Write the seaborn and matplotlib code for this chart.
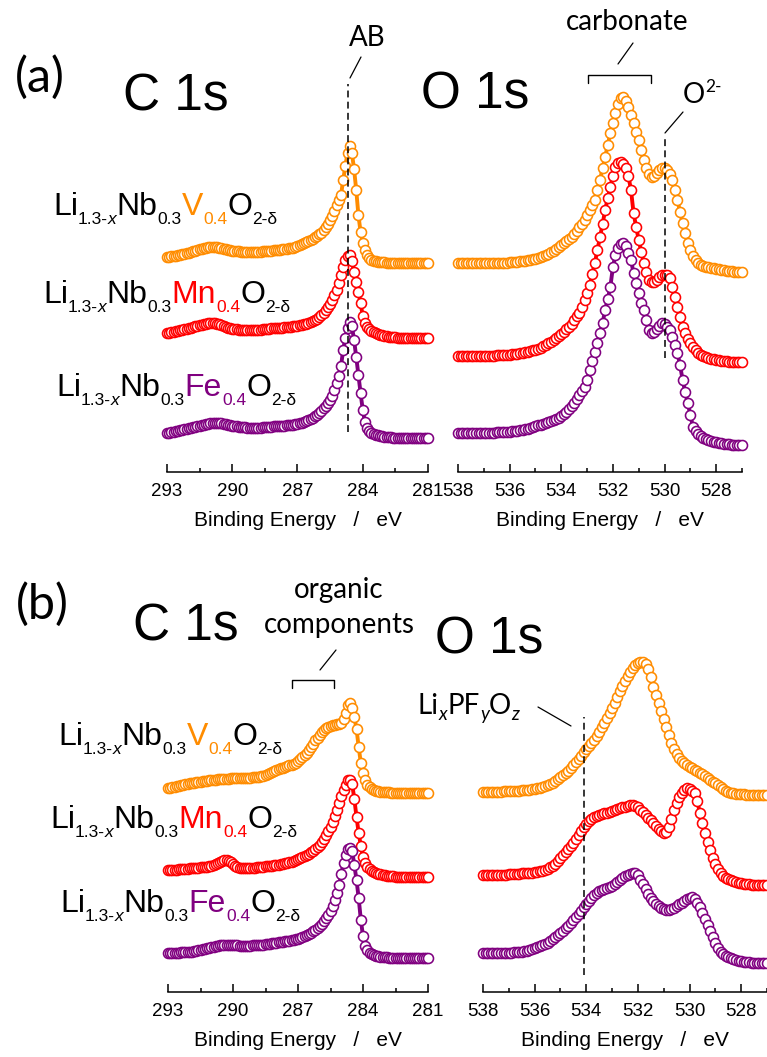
import numpy as np
import matplotlib
matplotlib.use("Agg")
import matplotlib.pyplot as plt
import seaborn as sns

# ---------------------------------------------------------------- data
# binding-energy grids (eV), 0.1 eV step, high -> low
C1S_START, C1S_STOP = 293.0, 281.0
O1S_START, O1S_STOP = 538.0, 527.0
c1s_energy = np.round(np.arange(C1S_START, C1S_STOP - 0.05, -0.1), 1)
o1s_energy = np.round(np.arange(O1S_START, O1S_STOP - 0.05, -0.1), 1)

samples = ["V", "Mn", "Fe"]

# (a) C 1s intensities (a.u., baseline removed)
c1s_a_V = [6, 6, 7, 7, 7, 8, 8, 9, 9, 10,
           10, 11, 12, 12, 13, 14, 14, 15, 15, 16,
           16, 16, 16, 16, 15, 15, 14, 14, 13, 13,
           12, 12, 12, 12, 11, 11, 11, 11, 11, 11,
           11, 11, 11, 11, 12, 12, 12, 12, 12, 13,
           13, 13, 13, 14, 14, 14, 15, 15, 15, 16,
           17, 18, 19, 20, 21, 22, 23, 24, 26, 27,
           29, 30, 33, 36, 39, 43, 47, 52, 58, 63,
           68, 83, 97, 110, 117, 110, 94, 73, 48, 31,
           20, 13, 8, 5, 3, 2, 2, 1, 1, 1,
           1, 0, 0, 0, 0, 0, 0, 0, 0, 0,
           0, 0, 0, 0, 0, 0, 0, 0, 0, 0,
           0]
c1s_a_Mn = [5, 5, 6, 6, 7, 7, 8, 8, 9, 9,
            10, 10, 11, 12, 12, 13, 13, 14, 14, 15,
            15, 15, 15, 14, 14, 13, 12, 11, 10, 10,
            9, 9, 9, 8, 8, 8, 8, 8, 8, 8,
            8, 8, 8, 8, 9, 9, 9, 9, 10, 10,
            10, 10, 10, 10, 11, 11, 11, 11, 12, 12,
            12, 13, 13, 14, 14, 15, 16, 17, 18, 19,
            21, 23, 25, 28, 31, 34, 38, 43, 48, 55,
            63, 71, 78, 82, 83, 77, 66, 56, 46, 35,
            22, 15, 11, 9, 7, 6, 5, 4, 3, 3,
            2, 2, 1, 1, 1, 1, 0, 0, 0, 0,
            0, 0, 0, 0, 0, 0, 0, 0, 0, 0,
            0]
c1s_a_Fe = [5, 5, 6, 6, 7, 7, 8, 8, 9, 9,
            10, 10, 11, 11, 12, 12, 13, 13, 14, 14,
            15, 15, 15, 15, 15, 15, 14, 14, 13, 13,
            12, 12, 12, 11, 11, 11, 11, 10, 10, 10,
            10, 10, 10, 10, 11, 11, 11, 11, 11, 12,
            12, 12, 12, 12, 12, 13, 13, 13, 13, 14,
            14, 15, 15, 16, 17, 18, 19, 20, 22, 23,
            25, 27, 30, 32, 35, 38, 42, 48, 55, 62,
            72, 88, 100, 110, 116, 112, 98, 81, 63, 45,
            28, 16, 10, 7, 5, 4, 3, 3, 2, 2,
            1, 1, 1, 1, 0, 0, 0, 0, 0, 0,
            0, 0, 0, 0, 0, 0, 0, 0, 0, 0,
            0]

# (a) O 1s intensities
o1s_a_V = [9, 9, 9, 9, 9, 9, 9, 9, 9, 9,
           9, 9, 9, 9, 9, 9, 9, 9, 9, 9,
           10, 10, 10, 10, 11, 11, 11, 12, 12, 13,
           13, 14, 15, 16, 17, 18, 20, 21, 23, 25,
           27, 29, 31, 33, 35, 38, 41, 45, 48, 52,
           57, 62, 67, 72, 82, 92, 104, 115, 127, 139,
           149, 159, 168, 174, 175, 171, 165, 157, 149, 140,
           132, 122, 112, 104, 98, 95, 96, 99, 102, 104,
           104, 102, 98, 92, 82, 72, 60, 49, 39, 29,
           22, 16, 12, 9, 7, 6, 5, 5, 4, 4,
           3, 3, 2, 2, 1, 1, 1, 0, 0, 0,
           0]
o1s_a_Mn = [6, 6, 6, 6, 6, 6, 6, 6, 6, 6,
            6, 6, 6, 6, 6, 7, 7, 7, 7, 7,
            7, 8, 8, 8, 9, 9, 10, 10, 11, 12,
            12, 13, 14, 16, 17, 19, 20, 22, 24, 26,
            28, 30, 33, 35, 38, 42, 46, 49, 55, 62,
            69, 77, 88, 99, 112, 125, 138, 152, 164, 175,
            186, 195, 199, 200, 198, 194, 186, 172, 149, 135,
            122, 110, 99, 90, 82, 80, 80, 82, 85, 87,
            87, 87, 84, 75, 65, 55, 45, 35, 29, 23,
            19, 15, 12, 9, 7, 6, 5, 4, 3, 3,
            2, 2, 1, 1, 1, 0, 0, 0, 0, 0,
            0]
o1s_a_Fe = [12, 12, 12, 12, 12, 12, 12, 12, 12, 12,
            12, 12, 12, 12, 12, 13, 13, 13, 13, 13,
            13, 14, 14, 14, 15, 15, 16, 16, 17, 18,
            19, 20, 20, 21, 22, 23, 24, 25, 26, 27,
            29, 31, 33, 36, 39, 42, 46, 50, 54, 58,
            65, 75, 84, 93, 102, 112, 122, 135, 146, 158,
            178, 190, 197, 201, 202, 199, 192, 185, 172, 162,
            152, 142, 135, 125, 115, 112, 113, 116, 119, 122,
            121, 118, 115, 108, 100, 92, 80, 65, 53, 42,
            30, 18, 14, 11, 9, 7, 6, 5, 4, 3,
            3, 2, 2, 1, 1, 1, 0, 0, 0, 0,
            0]

# (b) C 1s intensities
c1s_b_V = [5, 5, 6, 6, 7, 7, 8, 8, 9, 9,
           10, 10, 10, 11, 11, 11, 12, 12, 12, 13,
           13, 13, 13, 14, 14, 14, 14, 14, 14, 15,
           15, 15, 15, 15, 15, 15, 15, 15, 15, 16,
           16, 16, 16, 17, 17, 18, 19, 20, 21, 22,
           23, 24, 25, 25, 26, 27, 28, 28, 29, 30,
           32, 34, 36, 38, 40, 43, 46, 49, 53, 55,
           58, 61, 63, 65, 66, 67, 68, 68, 69, 69,
           70, 74, 80, 88, 90, 85, 76, 64, 46, 30,
           20, 13, 8, 6, 4, 3, 2, 2, 1, 1,
           1, 1, 1, 0, 0, 0, 0, 0, 0, 0,
           0, 0, 0, 0, 0, 0, 0, 0, 0, 0,
           0]
c1s_b_Mn = [7, 7, 7, 7, 7, 8, 8, 8, 8, 8,
            9, 9, 9, 9, 9, 10, 10, 10, 10, 11,
            11, 12, 13, 14, 15, 16, 17, 17, 16, 15,
            13, 11, 10, 9, 9, 9, 9, 9, 9, 9,
            9, 10, 10, 10, 10, 11, 11, 11, 11, 12,
            12, 12, 13, 13, 14, 14, 15, 15, 16, 17,
            18, 19, 20, 21, 22, 23, 25, 26, 28, 30,
            32, 35, 38, 42, 46, 50, 55, 61, 67, 74,
            81, 87, 92, 97, 97, 93, 78, 60, 44, 31,
            20, 14, 10, 8, 6, 5, 4, 3, 3, 2,
            2, 1, 1, 1, 1, 0, 0, 0, 0, 0,
            0, 0, 0, 0, 0, 0, 0, 0, 0, 0,
            0]
c1s_b_Fe = [5, 5, 5, 5, 5, 5, 6, 6, 6, 6,
            6, 6, 7, 7, 8, 8, 9, 9, 10, 10,
            11, 11, 12, 12, 13, 13, 13, 13, 13, 13,
            13, 13, 13, 12, 12, 12, 12, 12, 12, 13,
            13, 13, 13, 13, 13, 14, 14, 14, 15, 15,
            15, 16, 16, 16, 17, 17, 17, 18, 18, 19,
            19, 20, 21, 22, 23, 24, 25, 27, 28, 30,
            32, 34, 37, 40, 43, 47, 52, 58, 65, 73,
            84, 95, 103, 109, 110, 107, 93, 78, 60, 38,
            22, 12, 8, 5, 4, 3, 2, 2, 1, 1,
            1, 1, 0, 0, 0, 0, 0, 0, 0, 0,
            0, 0, 0, 0, 0, 0, 0, 0, 0, 0,
            0]

# (b) O 1s intensities
o1s_b_V = [3, 3, 3, 3, 3, 3, 3, 3, 4, 4,
           4, 4, 4, 4, 4, 5, 5, 5, 5, 6,
           6, 7, 7, 8, 9, 10, 11, 12, 14, 16,
           18, 20, 22, 24, 27, 30, 33, 36, 39, 43,
           46, 49, 52, 55, 59, 63, 68, 72, 77, 82,
           87, 92, 98, 104, 109, 114, 119, 123, 127, 130,
           132, 133, 133, 131, 126, 118, 108, 100, 92, 84,
           76, 68, 60, 52, 46, 41, 37, 34, 32, 30,
           28, 27, 25, 24, 22, 21, 19, 17, 15, 13,
           12, 10, 8, 6, 4, 3, 2, 2, 1, 1,
           1, 1, 0, 0, 0, 0, 0, 0, 0, 0,
           0]
o1s_b_Mn = [10, 10, 10, 10, 10, 10, 10, 10, 10, 10,
            11, 11, 11, 11, 11, 12, 12, 12, 12, 12,
            13, 13, 14, 14, 15, 16, 18, 19, 21, 24,
            27, 30, 33, 36, 39, 42, 46, 50, 54, 58,
            61, 64, 66, 68, 69, 70, 71, 72, 72, 73,
            74, 75, 76, 77, 78, 78, 79, 80, 80, 79,
            78, 75, 73, 70, 67, 65, 62, 59, 56, 54,
            52, 53, 58, 66, 75, 82, 88, 92, 95, 97,
            96, 94, 92, 84, 72, 62, 52, 43, 35, 27,
            21, 16, 12, 9, 7, 6, 5, 4, 3, 2,
            2, 1, 1, 1, 0, 0, 0, 0, 0, 0,
            0]
o1s_b_Fe = [10, 10, 10, 10, 10, 10, 10, 10, 10, 10,
            10, 10, 11, 11, 11, 11, 12, 12, 13, 14,
            15, 16, 17, 18, 19, 20, 22, 24, 26, 28,
            30, 32, 35, 37, 40, 43, 46, 49, 52, 56,
            59, 62, 65, 68, 70, 72, 73, 74, 75, 76,
            77, 79, 81, 83, 85, 87, 88, 89, 90, 90,
            88, 83, 79, 74, 69, 65, 62, 59, 57, 55,
            54, 53, 53, 54, 55, 57, 59, 60, 62, 64,
            65, 66, 64, 60, 56, 50, 44, 38, 32, 26,
            20, 15, 11, 9, 7, 6, 5, 4, 3, 2,
            2, 1, 1, 1, 0, 0, 0, 0, 0, 0,
            0]

# vertical stacking offsets of the three spectra in each panel
offsets_a_c1s = [209, 134, 34]
offsets_a_o1s = [200, 110, 27]
offsets_b_c1s = [199, 115, 34]
offsets_b_o1s = [197, 107, 29]

# reference energies marked with dashed lines (eV)
AB_ENERGY = 284.7
O2_ENERGY = 530.0
LIPFO_ENERGY = 534.1

c1s_ticks = [293, 290, 287, 284, 281]
c1s_minor = [291.5, 288.5, 285.5, 282.5]
o1s_ticks = [538, 536, 534, 532, 530, 528]
o1s_minor = [537, 535, 533, 531, 529, 527]

colors = {"V": "#FF8C00", "Mn": "#FF0000", "Fe": "#800080"}

# ---------------------------------------------------------------- style
sns.set_theme(style="white")
ARIAL = ["Liberation Sans", "DejaVu Sans"]
CALIBRI = ["Lato", "DejaVu Sans"]
plt.rcParams["font.family"] = ARIAL
plt.rcParams["text.color"] = "black"
plt.rcParams["axes.labelcolor"] = "black"
plt.rcParams["xtick.color"] = "black"
plt.rcParams["xtick.labelcolor"] = "black"

W, H = 767, 1057
fig = plt.figure(figsize=(W / 100, H / 100), dpi=100)

# overlay in pixel coordinates for annotations
ov = fig.add_axes([0, 0, 1, 1], zorder=5)
ov.set_xlim(0, W)
ov.set_ylim(H, 0)
ov.axis("off")


def add_panel(left, right, axis_y, top, xlim, ticks, minor):
    ax = fig.add_axes([left / W, 1 - axis_y / H, (right - left) / W,
                       (axis_y - top) / H])
    ax.set_xlim(*xlim)
    ax.set_ylim(0, axis_y - top)
    ax.patch.set_alpha(0)
    for s in ("left", "right", "top"):
        ax.spines[s].set_visible(False)
    ax.spines["bottom"].set_color("black")
    ax.spines["bottom"].set_linewidth(1.1)
    ax.set_yticks([])
    ax.set_xticks(ticks)
    ax.set_xticks(minor, minor=True)
    ax.set_xticklabels([str(t) for t in ticks])
    ax.tick_params(axis="x", which="major", direction="in", length=6,
                   width=1.1, color="black", labelcolor="black",
                   labelsize=13.5, pad=8, bottom=True)
    ax.tick_params(axis="x", which="minor", direction="in", length=3.2,
                   width=1.1, color="black", bottom=True)
    ax.set_xlabel("Binding Energy   /   eV", fontsize=15, labelpad=8,
                  color="black")
    ax.grid(False)
    return ax


def draw_spectra(ax, energy, series, offsets):
    for name, vals, off in zip(samples, series, offsets):
        y = np.asarray(vals, dtype=float) + off
        sns.lineplot(x=energy, y=y, ax=ax, sort=False, estimator=None,
                     color=colors[name], linewidth=2.8, marker="o",
                     markersize=7.2, markerfacecolor="white",
                     markeredgecolor=colors[name], markeredgewidth=1.15,
                     clip_on=False)


ax_ac = add_panel(167, 428, 472, 130, (293, 281), c1s_ticks, c1s_minor)
ax_ao = add_panel(458, 742, 472, 130, (538, 527), o1s_ticks, o1s_minor)
ax_bc = add_panel(168, 428, 992, 650, (293, 281), c1s_ticks, c1s_minor)
ax_bo = add_panel(483, 767, 992, 650, (538, 527), o1s_ticks, o1s_minor)

draw_spectra(ax_ac, c1s_energy, [c1s_a_V, c1s_a_Mn, c1s_a_Fe], offsets_a_c1s)
draw_spectra(ax_ao, o1s_energy, [o1s_a_V, o1s_a_Mn, o1s_a_Fe], offsets_a_o1s)
draw_spectra(ax_bc, c1s_energy, [c1s_b_V, c1s_b_Mn, c1s_b_Fe], offsets_b_c1s)
draw_spectra(ax_bo, o1s_energy, [o1s_b_V, o1s_b_Mn, o1s_b_Fe], offsets_b_o1s)

# dashed reference lines (y in pixels above the axis line)
dash = dict(color="black", lw=1.1, ls=(0, (4.5, 2.8)), clip_on=False,
            zorder=4)
ax_ac.plot([AB_ENERGY, AB_ENERGY], [472 - 432, 472 - 84], **dash)
ax_ao.plot([O2_ENERGY, O2_ENERGY], [472 - 358, 472 - 136], **dash)
ax_bo.plot([LIPFO_ENERGY, LIPFO_ENERGY], [992 - 975, 992 - 717], **dash)

# ---------------------------------------------------------------- text
big = dict(ha="center", va="center", color="black")
ov.text(40, 77, "(a)", fontsize=35, family=CALIBRI, **big)
ov.text(42, 604, "(b)", fontsize=35, family=CALIBRI, **big)
ov.text(176, 97, "C 1s", fontsize=37, family=ARIAL, **big)
ov.text(475, 95, "O 1s", fontsize=37, family=ARIAL, **big)
ov.text(186, 627, "C 1s", fontsize=37, family=ARIAL, **big)
ov.text(489, 640, "O 1s", fontsize=37, family=ARIAL, **big)

ov.text(367, 38, "AB", fontsize=20, family=CALIBRI, **big)
ov.plot([350, 361], [78, 57], color="black", lw=0.9)

ov.text(627, 22, "carbonate", fontsize=20, family=CALIBRI, **big)
ov.plot([618, 633], [64, 43], color="black", lw=0.9)
ov.plot([588, 588, 651, 651], [83, 75, 75, 83], color="black", lw=1.0)

ov.text(683, 103, "O", fontsize=20, family=CALIBRI, ha="left",
        va="baseline")
ov.text(705, 92, "2-", fontsize=12.5, family=CALIBRI, ha="left",
        va="baseline")
ov.plot([665, 683], [133, 112], color="black", lw=0.9)

ov.text(339, 590, "organic", fontsize=20, family=CALIBRI, **big)
ov.text(339, 625, "components", fontsize=20, family=CALIBRI, **big)
ov.plot([320, 336], [670, 650], color="black", lw=0.9)
ov.plot([292, 292, 334, 334], [688, 680, 680, 688], color="black", lw=1.0)

renderer = fig.canvas.get_renderer()


def rich(x, y, parts, size, sub, drop, family):
    for txt, col, is_sub, italic in parts:
        t = ov.text(x, y + (drop if is_sub else 0), txt,
                    fontsize=sub if is_sub else size, color=col,
                    style="italic" if italic else "normal",
                    family=family, ha="left", va="baseline")
        x += t.get_window_extent(renderer).width


k = "black"
rich(418, 714, [("Li", k, 0, 0), ("x", k, 1, 1), ("PF", k, 0, 0),
                ("y", k, 1, 1), ("O", k, 0, 0), ("z", k, 1, 1)],
     20, 13.5, 6, CALIBRI)
ov.plot([538, 571], [707, 726], color="black", lw=0.9)


def sample_label(x, y, metal):
    c = colors[metal]
    rich(x, y, [("Li", k, 0, 0), ("1.3-", k, 1, 0), ("x", k, 1, 1),
                ("Nb", k, 0, 0), ("0.3", k, 1, 0), (metal, c, 0, 0),
                ("0.4", c, 1, 0), ("O", k, 0, 0), ("2-\u03b4", k, 1, 0)],
         23, 12.5, 9, ARIAL)


for metal, (x, y) in zip(samples, [(53, 215), (43, 303), (56, 396)]):
    sample_label(x, y, metal)
for metal, (x, y) in zip(samples, [(58, 745), (50, 828), (60, 912)]):
    sample_label(x, y, metal)

fig.savefig("out.png", dpi=100)
